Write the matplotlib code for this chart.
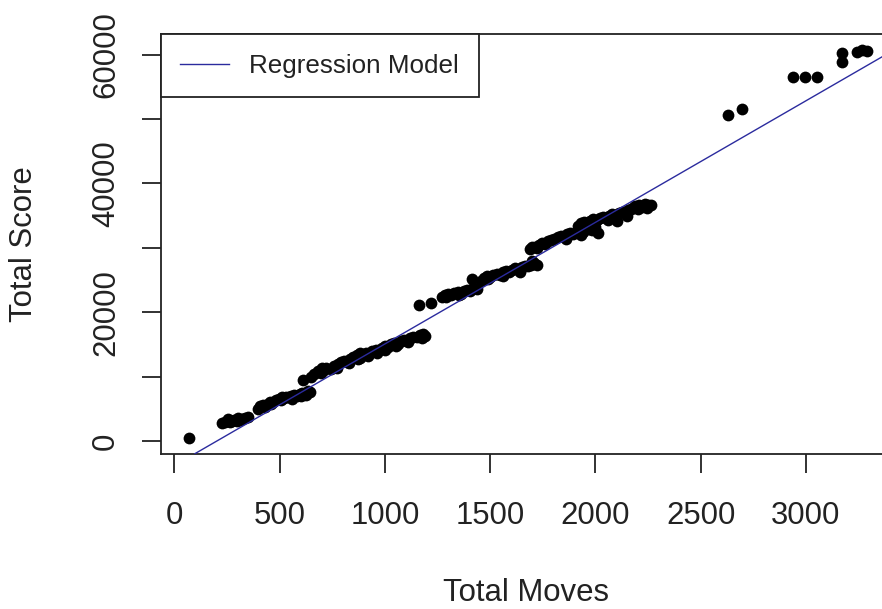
import matplotlib.pyplot as plt
import numpy as np

plt.rcParams['font.family'] = ['Liberation Sans', 'DejaVu Sans']

# moves / score per game, grouped by run
moves_a = [69]
score_a = [470]

moves_b = [228, 240, 252, 262, 275, 285, 298, 310, 322, 335, 348, 255, 300]
score_b = [2750, 2950, 3050, 2900, 3100, 3250, 3150, 3300, 3400, 3500, 3650, 3350, 3500]

moves_c = [395, 405, 420, 430, 445, 455, 470, 480, 495, 505, 520, 530, 545,
           555, 570, 580, 595, 605, 620, 632, 642, 460, 510, 560, 600, 625, 612]
score_c = [5000, 5400, 5600, 5300, 5800, 6100, 6000, 6300, 6500, 6300, 6700, 6900, 6800,
           7000, 7200, 7000, 7300, 7500, 7400, 7700, 7600, 5700, 6800, 6600, 7000, 7100, 9400]

moves_d = [650, 665, 680, 695, 710, 722, 700,
           745, 760, 775, 790, 805, 820, 835, 850, 865, 880, 770, 830, 870]
score_d = [10000, 10400, 10800, 10600, 11100, 11400, 11300,
           11200, 11600, 11900, 12200, 12500, 12300, 12800, 13100, 13400, 13700, 11400, 12100, 12800]

moves_e = [880, 895, 910, 925, 940, 955, 970, 985, 1000, 1015, 1030, 1045, 1060, 1075,
           1090, 1105, 1120, 1135, 1150, 1165, 1180, 1190, 1175, 1000, 1050, 1110, 960, 920]
score_e = [12900, 13300, 13600, 13500, 13900, 14200, 14100, 14500, 14700, 14600, 15000, 15200,
           15100, 15500, 15700, 15600, 16000, 16200, 16100, 16400, 16600, 16300, 16000, 14200,
           14800, 15300, 13700, 13200]

moves_f = [1162, 1217, 1272, 1285, 1300, 1315, 1330, 1345, 1360, 1375, 1390, 1405, 1420,
           1435, 1290, 1350, 1413]
score_f = [21100, 21400, 22300, 22700, 22900, 22600, 23000, 23200, 22900, 23300, 23500, 23300,
           23700, 23600, 22300, 22600, 25200]

moves_g = [1455, 1470, 1485, 1500, 1515, 1530, 1545, 1560, 1575, 1590, 1605, 1620, 1635,
           1650, 1665, 1680, 1695, 1710, 1720, 1700, 1490, 1560, 1640]
score_g = [24900, 25300, 25600, 25400, 25800, 26000, 25800, 26200, 26400, 26300, 26600, 26800,
           26700, 27000, 27200, 27100, 27400, 27600, 27300, 28000, 25100, 25700, 26300]

moves_h = [1690, 1700, 1715, 1730, 1745, 1760, 1775, 1790, 1720,
           1805, 1820, 1835, 1850, 1865, 1880, 1895, 1910, 1925, 1940, 1955, 1970, 1985,
           2000, 2010, 1860, 1930]
score_h = [29800, 30200, 30100, 30500, 30700, 30600, 31000, 31200, 29900,
           31400, 31700, 31900, 31700, 32100, 32300, 32200, 32500, 32700, 32500, 32900, 33000,
           32800, 33200, 32300, 31300, 32000]

moves_i = [1915, 1930, 1945, 1960, 1975, 1990, 2005, 2020, 2035, 2050, 2065, 2080, 2095,
           2110, 2125, 2140, 2155, 2170, 2180, 2100, 2060, 2150,
           2190, 2205, 2220, 2235, 2250, 2265, 2200, 2245]
score_i = [33400, 33800, 34000, 33700, 34200, 34400, 34300, 34600, 34800, 34600, 35000, 35200,
           35100, 35400, 35600, 35500, 35800, 36000, 36200, 34200, 34300, 35000,
           36500, 36700, 36400, 36800, 36600, 36700, 36100, 36200]

moves_j = [2631, 2694, 2939, 2996, 3053, 3170, 3170, 3241, 3265, 3290]
score_j = [50600, 51500, 56500, 56600, 56500, 58900, 60200, 60400, 60700, 60500]

total_moves = np.array(moves_a + moves_b + moves_c + moves_d + moves_e + moves_f
                       + moves_g + moves_h + moves_i + moves_j)
total_score = np.array(score_a + score_b + score_c + score_d + score_e + score_f
                       + score_g + score_h + score_i + score_j)

# fitted line: score = intercept + slope * moves
intercept = -3802
slope = 18.88

fig = plt.figure(figsize=(8.82, 6.09), dpi=100)
ax = fig.add_axes([0.18254, 0.25501, 0.82698, 0.68867])

ax.scatter(total_moves, total_score, s=72, c='black', linewidths=0, zorder=3)
ax.axline((0, intercept), slope=slope, color='#2b2b9e', lw=1.0, label='Regression Model', zorder=4)

ax.set_xlim(-64, 3401)
ax.set_ylim(-1972, 63160)

ax.set_xticks(np.arange(0, 3001, 500))
ax.set_yticks(np.arange(0, 60001, 10000))
ax.set_yticklabels(['0', '', '20000', '', '40000', '', '60000'])

for sp in ax.spines.values():
    sp.set_linewidth(1.3)
    sp.set_color('#222222')

ax.tick_params(axis='both', direction='out', length=13.7, width=1.3, color='#222222',
               labelsize=22.4, labelcolor='#222222')
ax.tick_params(axis='x', pad=20)
ax.tick_params(axis='y', pad=15, labelrotation=90)
for lbl in ax.get_yticklabels():
    lbl.set_va('center')

ax.set_xlabel('Total Moves', fontsize=22.4, color='#222222')
ax.set_ylabel('Total Score', fontsize=22.4, color='#222222')
ax.xaxis.set_label_coords(0.5, -0.332)
ax.xaxis.label.set_va('center')
ax.yaxis.set_label_coords(-0.188, 0.5)
ax.yaxis.label.set_va('center')

leg = ax.legend(loc='upper left', borderaxespad=0, fancybox=False, framealpha=1,
                edgecolor='#222222', fontsize=18.7, handlelength=1.85, handletextpad=0.8,
                borderpad=0.75)
leg.get_frame().set_linewidth(1.3)
for t in leg.get_texts():
    t.set_color('#222222')

fig.savefig('out.png', dpi=100)
